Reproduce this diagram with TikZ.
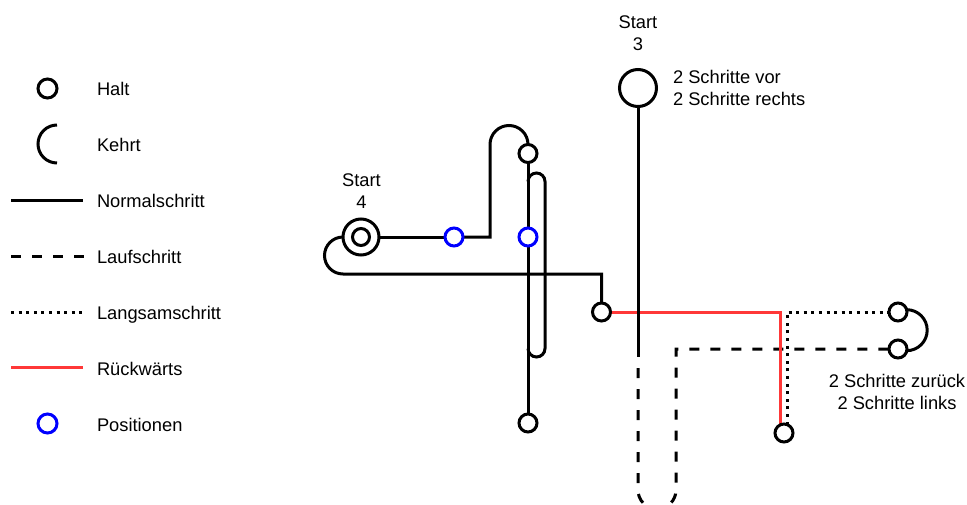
\documentclass[tikz,border=0pt]{standalone}
\usepackage{fontspec}
\setmainfont{Liberation Sans}
\definecolor{rueck}{RGB}{255,56,56}
\definecolor{posblue}{RGB}{0,0,255}
\tikzset{
  seg/.style={line width=3pt},
  halt/.style={circle, draw=black, line width=3pt, fill=white, minimum size=18pt, inner sep=0pt, outer sep=0pt},
  posc/.style={halt, draw=posblue},
  lab/.style={font=\fontsize{18.3}{22}\selectfont, inner sep=0pt, outer sep=0pt, anchor=base},
  legl/.style={lab, anchor=base west},
  laufline/.style={seg, dash pattern=on 10pt off 11pt},
  langline/.style={seg, dash pattern=on 3pt off 4.6pt},
  rueckline/.style={seg, draw=rueck},
}
\begin{document}
\begin{tikzpicture}[x=1pt,y=-1pt]
\useasboundingbox (0,0) rectangle (967,504);

% ---------- legend ----------
\node[halt, minimum size=19pt] (lhalt) at (47.5,88.5) {};
\node[legl] (thalt) at (97,95) {Halt};
\coordinate (lk1) at (57,125);
\draw[seg] (lk1) arc[start angle=270, end angle=90, radius=19];
\node[legl] (tkehrt) at (97,151) {Kehrt};
\coordinate (ln1) at (11,200); \coordinate (ln2) at (83,200);
\draw[seg] (ln1) -- (ln2);
\node[legl] (tnormal) at (97,207) {Normalschritt};
\coordinate (ll1) at (11,256); \coordinate (ll2) at (84,256);
\draw[laufline] (ll1) -- (ll2);
\node[legl] (tlauf) at (97,263) {Laufschritt};
\coordinate (lg1) at (11,312); \coordinate (lg2) at (83,312);
\draw[langline] (lg1) -- (lg2);
\node[legl] (tlang) at (97,319) {Langsamschritt};
\coordinate (lr1) at (11,367); \coordinate (lr2) at (83,367);
\draw[rueckline] (lr1) -- (lr2);
\node[legl] (truck) at (97,375) {Rückwärts};
\node[posc, minimum size=19pt] (lpos) at (47.5,423.5) {};
\node[legl] (tpos) at (97,431) {Positionen};

% ---------- node positions ----------
\coordinate (cs3) at (638,88);
\coordinate (cs4) at (361,237);
\coordinate (cp1) at (454,237);
\coordinate (cp2) at (528,237);
\coordinate (ch1) at (528,153.5);
\coordinate (ch2) at (528,423);
\coordinate (ch3) at (601.5,312);
\coordinate (ch4) at (784,433);
\coordinate (ch5) at (898,312);
\coordinate (ch6) at (898,349);

\node[halt, minimum size=37pt, fill=none, draw=none] (s3) at (cs3) {};
\node[halt, minimum size=36pt, fill=none, draw=none] (s4o) at (cs4) {};
\node[posc, fill=none, draw=none] (p1) at (cp1) {};
\node[posc, fill=none, draw=none] (p2) at (cp2) {};
\node[halt, fill=none, draw=none] (h1) at (ch1) {};
\node[halt, fill=none, draw=none] (h2) at (ch2) {};
\node[halt, fill=none, draw=none] (h3) at (ch3) {};
\node[halt, fill=none, draw=none] (h4) at (ch4) {};
\node[halt, fill=none, draw=none] (h5) at (ch5) {};
\node[halt, fill=none, draw=none] (h6) at (ch6) {};

\coordinate (sd) at (638,357);
\coordinate (db) at (638,490);
\coordinate (dc) at (676,349);
\coordinate (k1) at (490,237);
\coordinate (k2) at (490,144.5);
\coordinate (n1) at (528,181.5);
\coordinate (n2) at (545,348.5);
\coordinate (hk) at (601.5,274);

% ---------- connectors ----------
\draw[laufline, dash phase=10pt] (sd) -- (db) arc[start angle=180, end angle=0, radius=19] -- (dc) -- (h6.west);
\draw[langline] (h4.70) -- (h4.70 |- h5.west) -- (h5.west);
\draw[rueckline] (h3.east) -- (h4.110 |- h3.east) -- (h4.110);
\draw[seg] (s3.south) -- (sd);
\draw[seg] (s4o.east) -- (p1.west);
\draw[seg] (p1.east) -- (k1) -- (k2) arc[start angle=180, end angle=360, radius=19] -- (h1.north);
\draw[seg] (h1.south) -- (h2.north);
\draw[seg] (n1) arc[start angle=180, end angle=360, radius=8.5] -- (n2) arc[start angle=0, end angle=180, radius=8.5];
\draw[seg] (s4o.west) arc[start angle=270, end angle=90, radius=18.5] -- (hk) -- (h3.north);
\draw[seg] (h5.15) arc[start angle=270, end angle=450, radius=20.5];

% ---------- circles on top ----------
\node[halt, minimum size=37pt] (s3c) at (cs3) {};
\node[halt, minimum size=36pt] (s4c) at (cs4) {};
\node[halt, minimum size=17pt] (s4i) at (cs4) {};
\node[posc] (p1c) at (cp1) {};
\node[posc] (p2c) at (cp2) {};
\node[halt] (h1c) at (ch1) {};
\node[halt] (h2c) at (ch2) {};
\node[halt] (h3c) at (ch3) {};
\node[halt] (h4c) at (ch4) {};
\node[halt] (h5c) at (ch5) {};
\node[halt] (h6c) at (ch6) {};

% ---------- labels ----------
\node[lab] (t3a) at (638,28.5) {Start};
\node[lab] (t3b) at (638,50) {3};
\node[legl] (t3c) at (673,83.5) {2 Schritte vor};
\node[legl] (t3d) at (673,105.5) {2 Schritte rechts};
\node[lab] (t4a) at (361.5,186) {Start};
\node[lab] (t4b) at (361.5,208) {4};
\node[lab] (tza) at (897,387) {2 Schritte zurück};
\node[lab] (tzb) at (897,409) {2 Schritte links};
\end{tikzpicture}
\end{document}
